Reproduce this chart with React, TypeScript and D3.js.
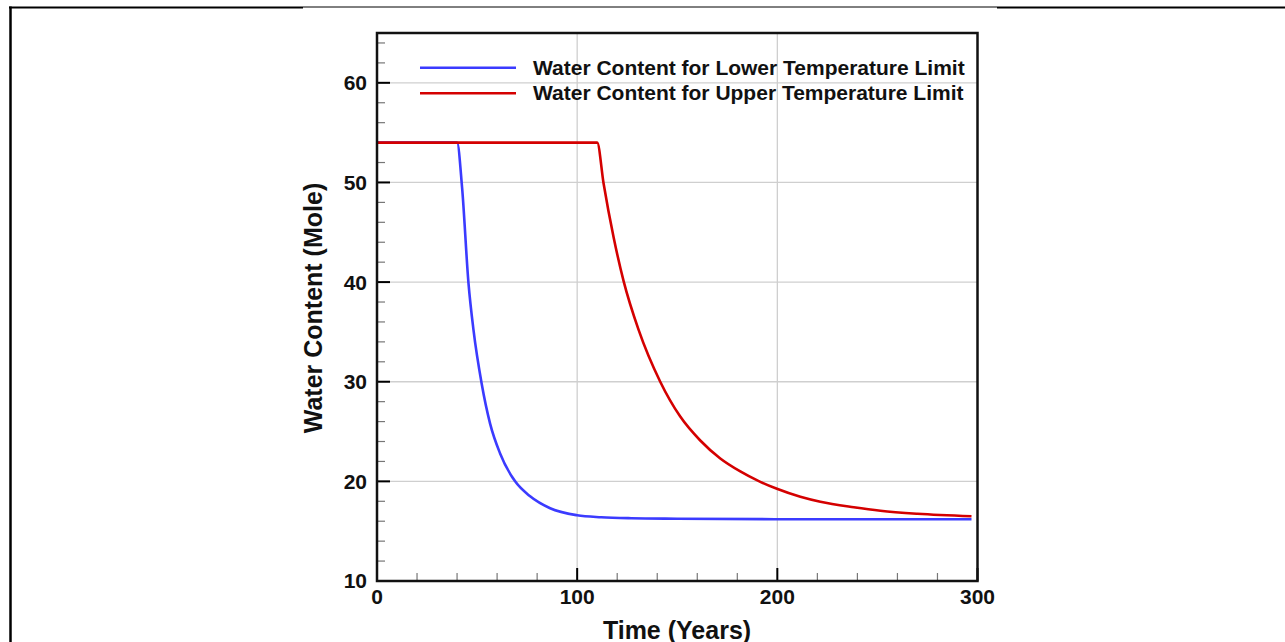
import React from "react";
import * as d3 from "d3";

const lowerYears = [0, 40, 42.5, 45.7, 48.2, 52.3, 56.5, 61.5, 69, 76.5, 86.5, 100, 112, 127, 150, 200, 297];
const lowerValues = [54, 54, 49.5, 39.9, 35.2, 29.8, 25.8, 22.8, 20.0, 18.5, 17.3, 16.6, 16.4, 16.3, 16.25, 16.2, 16.2];

const upperYears = [0, 110, 113.2, 118.2, 123.2, 130.7, 141.5, 151.5, 161.5, 171.5, 181.5, 190.5, 199.8, 211.5, 221.5, 238.2, 251.5, 270, 297];
const upperValues = [54, 54, 49.9, 44.5, 40.1, 35.2, 30.0, 26.5, 24.1, 22.3, 21.0, 20.05, 19.25, 18.45, 17.95, 17.4, 17.05, 16.75, 16.5];

const xTickValues = [0, 100, 200, 300];
const yTickValues = [10, 20, 30, 40, 50, 60];
const xGridValues = [100, 200];
const yGridValues = [20, 30, 40, 50, 60];

const seriesNames = [
  "Water Content for Lower Temperature Limit",
  "Water Content for Upper Temperature Limit",
];
const seriesColors = ["#3b3bff", "#d40000"];

const W = 1285;
const H = 642;
const L = 377, R = 977.5, T = 33, B = 581;

export default function App() {
  const x = d3.scaleLinear().domain([0, 300]).range([L, R]);
  const y = d3.scaleLinear().domain([10, 65]).range([B, T]);
  const line = d3
    .line<[number, number]>()
    .x((d) => x(d[0]))
    .y((d) => y(d[1]))
    .curve(d3.curveMonotoneX);

  const lower: [number, number][] = lowerYears.map((t, i) => [t, lowerValues[i]]);
  const upper: [number, number][] = upperYears.map((t, i) => [t, upperValues[i]]);

  const xMinor = d3.range(0, 301, 20).filter((v) => v % 100 !== 0);
  const yMinor = d3.range(10, 65, 2).filter((v) => v % 10 !== 0);

  const font = "'Liberation Sans', Arial, sans-serif";

  return (
    <svg
      width={W}
      height={H}
      style={{ position: "absolute", left: 0, top: 0, background: "#fff" }}
      fontFamily={font}
    >
      {/* page border fragments */}
      <line x1={10.5} y1={6.5} x2={10.5} y2={H} stroke="#000" strokeWidth={2.5} />
      <line x1={9} y1={7.5} x2={303} y2={7.5} stroke="#000" strokeWidth={2} />
      <line x1={303} y1={7} x2={997} y2={7} stroke="#000" strokeWidth={1} />
      <line x1={997} y1={7.5} x2={W} y2={7.5} stroke="#000" strokeWidth={2} />

      {/* grid */}
      {xGridValues.map((v) => (
        <line key={"gx" + v} x1={x(v)} x2={x(v)} y1={T} y2={B} stroke="#cfcfcf" strokeWidth={1.3} />
      ))}
      {yGridValues.map((v) => (
        <line key={"gy" + v} x1={L} x2={R} y1={y(v)} y2={y(v)} stroke="#cfcfcf" strokeWidth={1.3} />
      ))}

      {/* minor ticks */}
      {xMinor.map((v) => (
        <line key={"mx" + v} x1={x(v)} x2={x(v)} y1={B} y2={B - 8} stroke="#777" strokeWidth={1.2} />
      ))}
      {yMinor.map((v) => (
        <line key={"my" + v} x1={L} x2={L + 8} y1={y(v)} y2={y(v)} stroke="#777" strokeWidth={1.2} />
      ))}
      {/* major ticks */}
      {xTickValues.map((v) => (
        <line key={"Mx" + v} x1={x(v)} x2={x(v)} y1={B} y2={B - 13} stroke="#000" strokeWidth={2} />
      ))}
      {yTickValues.map((v) => (
        <line key={"My" + v} x1={L} x2={L + 13} y1={y(v)} y2={y(v)} stroke="#000" strokeWidth={2} />
      ))}

      {/* legend */}
      {seriesNames.map((name, i) => (
        <g key={name}>
          <line x1={420} x2={516} y1={67.7 + i * 25.6} y2={67.7 + i * 25.6} stroke={seriesColors[i]} strokeWidth={2.5} />
          <text x={533} y={75 + i * 25.3} fontSize={21} fontWeight="bold" fill="#111">
            {name}
          </text>
        </g>
      ))}

      {/* series */}
      <path d={line(lower) || ""} fill="none" stroke={seriesColors[0]} strokeWidth={2.6} />
      <path d={line(upper) || ""} fill="none" stroke={seriesColors[1]} strokeWidth={2.6} />

      {/* frame */}
      <rect x={L} y={T} width={R - L} height={B - T} fill="none" stroke="#111" strokeWidth={2.5} />

      {/* tick labels */}
      {xTickValues.map((v) => (
        <text key={"lx" + v} x={x(v)} y={604} textAnchor="middle" fontSize={21} fontWeight="bold" fill="#111">
          {v}
        </text>
      ))}
      {yTickValues.map((v) => (
        <text key={"ly" + v} x={367} y={y(v) + (v === 10 ? 6.5 : 7.5)} textAnchor="end" fontSize={21} fontWeight="bold" fill="#111">
          {v}
        </text>
      ))}

      {/* axis titles */}
      <text x={677} y={639} textAnchor="middle" fontSize={25} fontWeight="bold" fill="#111">
        Time (Years)
      </text>
      <text
        transform={`translate(322, 308) rotate(-90)`}
        textAnchor="middle"
        fontSize={25}
        fontWeight="bold"
        fill="#111"
      >
        Water Content (Mole)
      </text>
    </svg>
  );
}
